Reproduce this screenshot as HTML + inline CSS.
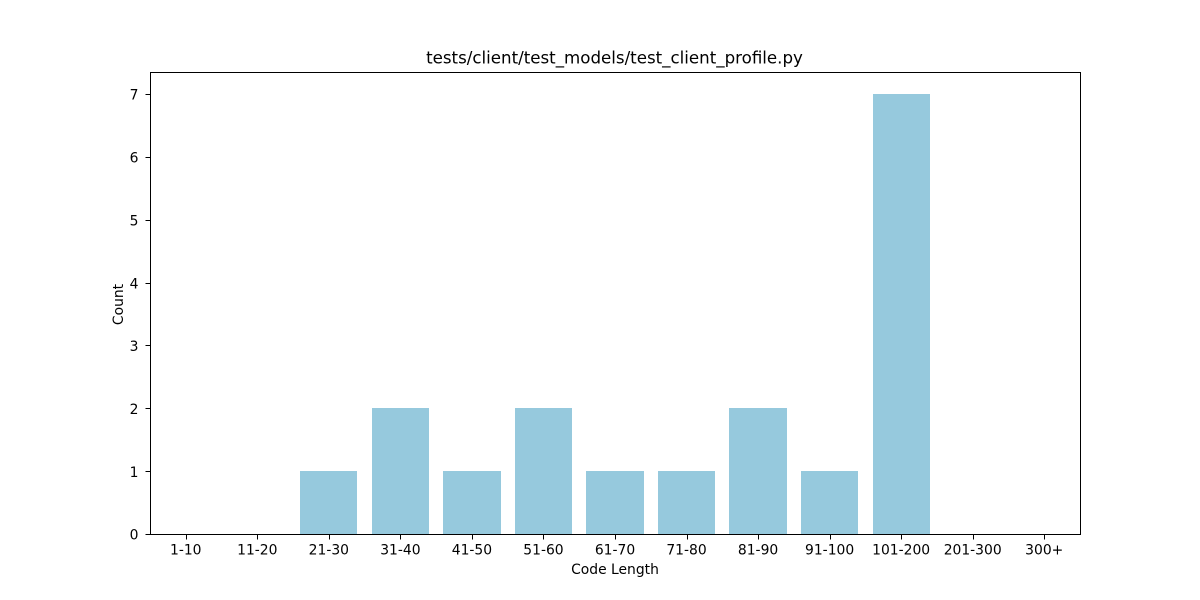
<!DOCTYPE html>
<html>
<head>
<meta charset="utf-8">
<style>
html,body{margin:0;padding:0;background:#fff;width:1200px;height:600px;overflow:hidden}
svg{display:block}
text{font-family:"DejaVu Sans",sans-serif;fill:#000}
</style>
</head>
<body>
<svg id="chart" xmlns="http://www.w3.org/2000/svg" width="1200" height="600" viewBox="0 0 1200 600"></svg>
<script>
const categories = ["1-10","11-20","21-30","31-40","41-50","51-60","61-70","71-80","81-90","91-100","101-200","201-300","300+"];
const counts = [0,0,1,2,1,2,1,1,2,1,7,0,0];
const yTicks = [0,1,2,3,4,5,6,7];
const chartTitle = "tests/client/test_models/test_client_profile.py";
const xLabel = "Code Length";
const yLabel = "Count";

const svg = document.getElementById('chart');
const NS = 'http://www.w3.org/2000/svg';
const L = 150, R = 1080, T = 72, B = 534;
const xMin = -0.5, xMax = categories.length - 0.5;
const yMax = Math.max(...counts) * 1.05;
const x = v => L + (v - xMin) / (xMax - xMin) * (R - L);
const y = v => B - v / yMax * (B - T);
const snap = v => Math.round(v) + 0.5;

function mk(tag, attrs, text) {
  const el = document.createElementNS(NS, tag);
  for (const k in attrs) el.setAttribute(k, attrs[k]);
  if (text !== undefined) el.textContent = text;
  svg.appendChild(el);
  return el;
}

const bg = mk('rect', {x: L, y: T, width: R - L, height: B - T, fill: '#fff'});



counts.forEach((c, i) => {
  if (c <= 0) return;
  const bx = Math.round(x(i - 0.4)), bx2 = Math.round(x(i + 0.4)), by = Math.round(y(c));
  const bar = mk('rect', {x: bx, y: by, width: bx2 - bx, height: B - by, fill: '#96c9dd', 'shape-rendering': 'crispEdges'});
  
  
});

categories.forEach((cat, i) => {
  const px = snap(x(i));
  const tick = mk('line', {x1: px, x2: px, y1: B, y2: B + 5.5, stroke: '#000', 'stroke-width': 1, 'shape-rendering': 'crispEdges'});
  
  
  const label = mk('text', {x: x(i), y: B + 20.5, 'font-size': 13.89, 'text-anchor': 'middle'}, cat);
  
  
});

yTicks.forEach(t => {
  const py = snap(y(t));
  const tick = mk('line', {x1: L - 4.5, x2: L, y1: py, y2: py, stroke: '#000', 'stroke-width': 1, 'shape-rendering': 'crispEdges'});
  
  
  const label = mk('text', {x: L - 11.5, y: y(t) + 5.7, 'font-size': 13.89, 'text-anchor': 'end'}, t);
  
  
});

const frame = mk('rect', {x: L + 0.5, y: T + 0.5, width: R - L, height: B - T, fill: 'none', stroke: '#000', 'stroke-width': 1, 'shape-rendering': 'crispEdges'});



const titleEl = mk('text', {x: (L + R) / 2 - 0.5, y: 63.5, 'font-size': 16.67, 'text-anchor': 'middle'}, chartTitle);



const xTitle = mk('text', {x: (L + R) / 2, y: 574, 'font-size': 13.89, 'text-anchor': 'middle'}, xLabel);



const yMid = (T + B) / 2 + 1.5;
const yTitle = mk('text', {x: 123, y: yMid, 'font-size': 13.89, 'text-anchor': 'middle', transform: 'rotate(-90 123 ' + yMid + ')'}, yLabel);


</script>
</body>
</html>
